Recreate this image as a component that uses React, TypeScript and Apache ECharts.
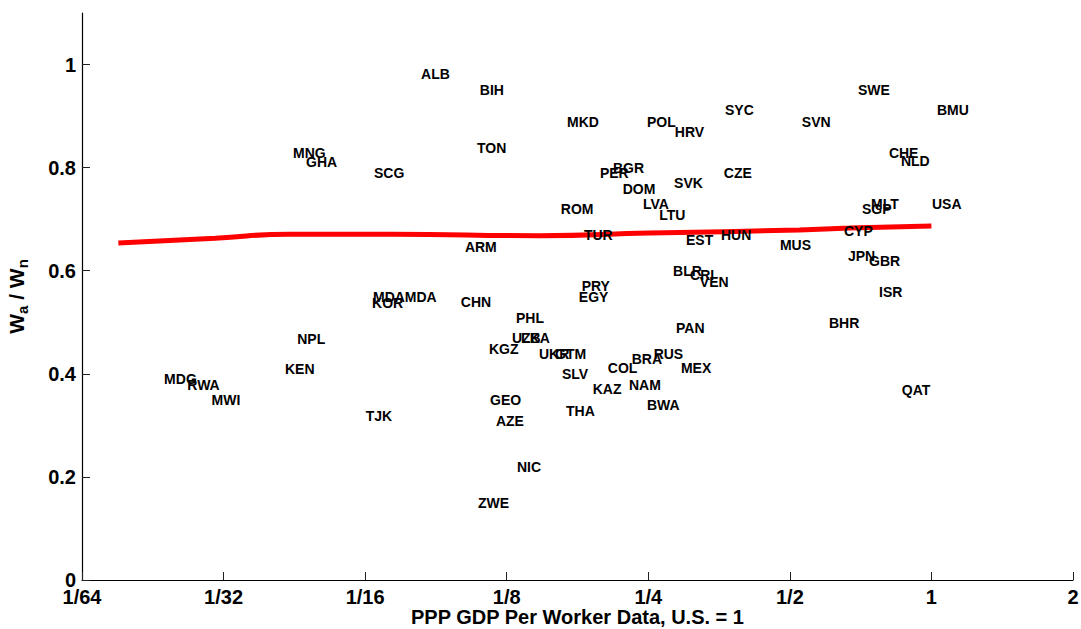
import React, { useEffect, useRef } from "react";
import * as echarts from "echarts";

// Country codes, PPP GDP per worker (U.S. = 1), and wage ratio W_a / W_n
const countries = [
  "ALB", "BIH", "TON", "MNG", "GHA", "SCG", "MKD", "POL", "HRV", "SYC",
  "SVN", "SWE", "BMU", "CHE", "NLD", "CZE", "BGR", "PER", "DOM", "SVK",
  "ROM", "LVA", "LTU", "TUR", "EST", "HUN", "MLT", "SGP", "USA", "CYP",
  "MUS", "JPN", "GBR", "ISR", "BHR", "ARM", "BLR", "CRI", "VEN", "PRY",
  "EGY", "CHN", "PHL", "PAN", "UZB", "LKA", "KGZ", "UKR", "GTM", "BRA",
  "RUS", "COL", "MEX", "SLV", "NAM", "KAZ", "GEO", "BWA", "THA", "AZE",
  "NIC", "ZWE", "MDA", "KOR", "MDA", "NPL", "KEN", "MDG", "RWA", "MWI",
  "TJK", "QAT",
];
const gdpPerWorker = [
  0.082, 0.1093, 0.1078, 0.0438, 0.0467, 0.0651, 0.1675, 0.2478, 0.284, 0.363,
  0.529, 0.696, 1.025, 0.81, 0.859, 0.361, 0.2098, 0.1968, 0.22, 0.283,
  0.1625, 0.243, 0.263, 0.182, 0.3, 0.356, 0.742, 0.71, 1.0, 0.65,
  0.475, 0.663, 0.735, 0.772, 0.604, 0.1016, 0.2815, 0.306, 0.321, 0.18,
  0.1775, 0.0996, 0.1305, 0.2856, 0.1279, 0.1338, 0.1143, 0.146, 0.158, 0.23,
  0.256, 0.2046, 0.2926, 0.1634, 0.2269, 0.19, 0.1149, 0.2478, 0.1667, 0.1183,
  0.1311, 0.1083, 0.0648, 0.0645, 0.0757, 0.0447, 0.0421, 0.0233, 0.0261, 0.0294,
  0.0625, 0.863,
];
const wageRatio = [
  0.981, 0.95, 0.839, 0.829, 0.81, 0.79, 0.889, 0.889, 0.87, 0.911,
  0.889, 0.95, 0.911, 0.829, 0.812, 0.79, 0.8, 0.79, 0.759, 0.771,
  0.72, 0.73, 0.709, 0.67, 0.66, 0.67, 0.73, 0.72, 0.73, 0.678,
  0.649, 0.629, 0.619, 0.559, 0.499, 0.647, 0.6, 0.592, 0.579, 0.571,
  0.55, 0.54, 0.509, 0.489, 0.47, 0.47, 0.448, 0.439, 0.439, 0.429,
  0.439, 0.412, 0.412, 0.4, 0.379, 0.371, 0.35, 0.34, 0.328, 0.309,
  0.219, 0.15, 0.55, 0.538, 0.55, 0.468, 0.41, 0.39, 0.379, 0.35,
  0.318, 0.369,
];

// Fitted relationship (red line)
const fitGdp = [0.01867, 0.03, 0.0431, 0.0715, 0.1466, 0.2514, 0.524, 0.669, 1.0];
const fitRatio = [0.654, 0.663, 0.671, 0.671, 0.668, 0.673, 0.679, 0.683, 0.687];

// Axis ticks (log2 of GDP ratio) and labels
const xTickValues = [-6, -5, -4, -3, -2, -1, 0, 1];
const xTickLabels = ["1/64", "1/32", "1/16", "1/8", "1/4", "1/2", "1", "2"];
const yTickValues = [0, 0.2, 0.4, 0.6, 0.8, 1.0];

const FONT = "'Liberation Sans', Arial, Helvetica, sans-serif";

export default function App() {
  const ref = useRef<HTMLDivElement>(null);

  useEffect(() => {
    document.body.style.margin = "0";
    const chart = echarts.init(ref.current!, null, { renderer: "svg" });

    const points = countries.map((c, i) => ({
      name: c,
      value: [Math.log2(gdpPerWorker[i]), wageRatio[i]],
    }));
    const fit = fitGdp.map((g, i) => [Math.log2(g), fitRatio[i]]);

    chart.setOption({
      animation: false,
      backgroundColor: "#ffffff",
      grid: {
        left: 82,
        right: 8,
        top: 13,
        bottom: 49,
        containLabel: false,
        outerBoundsMode: "none",
      },
      xAxis: {
        type: "value",
        min: -6,
        max: 1,
        interval: 1,
        name: "PPP GDP Per Worker Data, U.S. = 1",
        nameLocation: "middle",
        nameGap: 27,
        nameMoveOverlap: false,
        nameTextStyle: {
          fontFamily: FONT,
          fontWeight: "bold",
          fontSize: 20,
          lineHeight: 20,
          color: "#000",
          verticalAlign: "top",
        },
        axisLine: { show: true, onZero: false, lineStyle: { color: "#000", width: 1.2 } },
        axisTick: {
          show: true,
          inside: true,
          length: 8,
          lineStyle: { color: "#222", width: 1 },
        },
        axisLabel: {
          fontFamily: FONT,
          fontWeight: "bold",
          fontSize: 20,
          color: "#000",
          margin: 7,
          formatter: (v: number) => {
            const idx = xTickValues.indexOf(Math.round(v));
            return idx >= 0 ? xTickLabels[idx] : "";
          },
        },
        splitLine: { show: false },
      },
      yAxis: {
        type: "value",
        min: 0,
        max: 1.1,
        name: "{m|W}{s|a}{m| / W}{s|n}",
        nameLocation: "middle",
        nameRotate: 90,
        nameGap: 52,
        nameMoveOverlap: false,
        nameTextStyle: {
          rich: {
            m: {
              fontFamily: FONT,
              fontWeight: "bold",
              fontSize: 21,
              color: "#000",
              lineHeight: 28,
              verticalAlign: "middle",
            },
            s: {
              fontFamily: FONT,
              fontWeight: "bold",
              fontSize: 15,
              color: "#000",
              lineHeight: 28,
              verticalAlign: "bottom",
              padding: [10, 0, 0, 0],
            },
          },
        },
        axisLine: { show: true, onZero: false, lineStyle: { color: "#000", width: 1.2 } },
        axisTick: {
          show: true,
          inside: true,
          length: 8,
          customValues: yTickValues,
          lineStyle: { color: "#222", width: 1 },
        },
        axisLabel: {
          fontFamily: FONT,
          fontWeight: "bold",
          fontSize: 20,
          color: "#000",
          margin: 6,
          customValues: yTickValues,
          formatter: (v: number) => (v === 0 || v === 1 ? String(v) : v.toFixed(1)),
        },
        splitLine: { show: false },
      },
      series: [
        {
          type: "line",
          data: fit,
          smooth: true,
          symbol: "none",
          lineStyle: { color: "#ff0000", width: 5 },
          z: 2,
        },
        {
          type: "scatter",
          data: points,
          symbolSize: 1,
          itemStyle: { color: "rgba(0,0,0,0)" },
          label: {
            show: true,
            position: "right",
            distance: 0,
            formatter: (p: any) => p.name,
            fontFamily: FONT,
            fontWeight: "bold",
            fontSize: 14,
            color: "#000",
            opacity: 1,
            align: "left",
            verticalAlign: "middle",
          },
          emphasis: { disabled: true },
          labelLayout: { hideOverlap: false },
          z: 3,
        },
      ],
    });

    return () => chart.dispose();
  }, []);

  return (
    <div
      ref={ref}
      style={{ position: "fixed", left: 0, top: 0, width: 1081, height: 629 }}
    />
  );
}
